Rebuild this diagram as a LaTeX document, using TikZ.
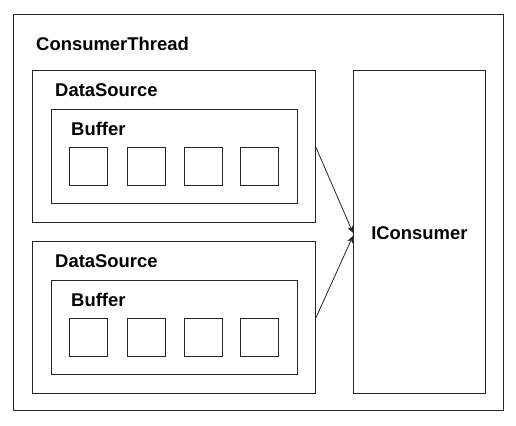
\documentclass[tikz,border=0pt]{standalone}
\usepackage{fontspec}
\setmainfont{Liberation Sans}
\usetikzlibrary{arrows.meta}
\tikzset{
  box/.style={draw=black!85, line width=0.8bp, anchor=north west, inner sep=0pt},
  cell/.style={box, minimum width=38bp, minimum height=38bp},
  title/.style={anchor=west, inner sep=0pt, font=\fontsize{18.5}{22}\selectfont\bfseries},
  link/.style={draw=black!85, line width=0.8bp, -{Stealth[length=7bp,width=6bp]}}
}
\begin{document}
\begin{tikzpicture}[x=1bp, y=-1bp]
    \useasboundingbox (0,0) rectangle (516,425);

    % Draw outer thread box
    \node[box, minimum width=490bp, minimum height=396bp] (thread) at (13,14) {};
    \node[title] (threadlabel) at (36,44) {ConsumerThread};

    % Draw the two data sources with their buffers
    \foreach \i/\y in {1/70, 2/241} {
        \node[box, minimum width=283bp, minimum height=152bp] (ds\i) at (32,\y) {};
        \node[title] (dslabel\i) at (55,\y+20) {DataSource};
        \node[box, minimum width=246bp, minimum height=94bp] (buf\i) at (51,\y+39) {};
        \node[title] (buflabel\i) at (71,\y+59) {Buffer};
        \foreach \j/\x in {1/69, 2/127, 3/184, 4/240}
            \node[cell] (cell\i\j) at (\x,\y+77) {};
    }

    % Draw consumer
    \node[box, minimum width=132bp, minimum height=323bp] (consumer) at (353,70) {};
    \node[title, anchor=center] (consumerlabel) at ([yshift=-1.5bp]consumer.center) {IConsumer};

    % Define and draw the links
    \coordinate (in1) at ([yshift=-1bp]consumer.west);
    \coordinate (in2) at ([yshift=-4bp]consumer.west);
    \draw[link] (ds1.east |- cell11.north) -- (in1);
    \draw[link] (ds2.east |- cell21.north) -- (in2);
\end{tikzpicture}
\end{document}
